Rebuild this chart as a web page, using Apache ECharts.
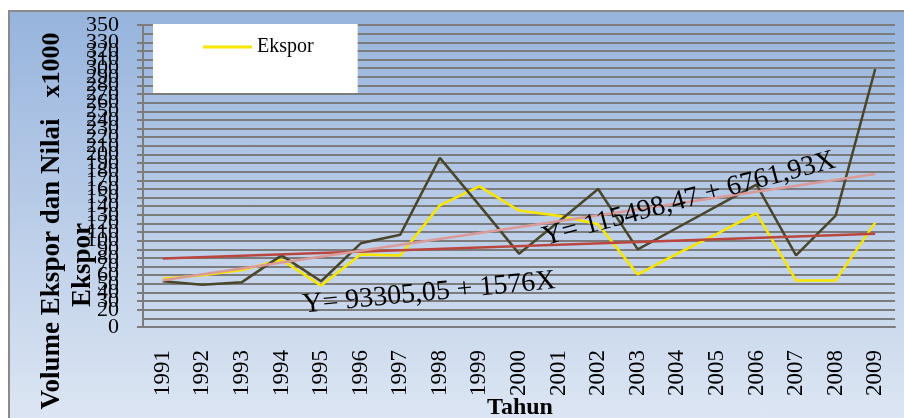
<!DOCTYPE html>
<html>
<head>
<meta charset="utf-8">
<script src="https://cdn.jsdelivr.net/npm/echarts@6/dist/echarts.min.js"></script>
<style>
  html, body { margin: 0; padding: 0; background: #fff; }
  .wrap { position: relative; width: 904px; height: 418px; overflow: hidden; }
  .bg {
    position: absolute; left: 8px; top: 10px; right: -4px; bottom: -4px;
    border-left: 2px solid #8a8a8a; border-top: 2px solid #8a8a8a;
    background: linear-gradient(to bottom, #97b4dd, #dde6f3);
  }
  #chart { position: absolute; left: 0; top: 0; width: 904px; height: 418px; }
</style>
</head>
<body>
<div class="wrap">
  <div class="bg"></div>
  <div id="chart"></div>
</div>
<script>
// data (x1000)
const years = ['1991', '1992', '1993', '1994', '1995', '1996', '1997', '1998', '1999', '2000',
  '2001', '2002', '2003', '2004', '2005', '2006', '2007', '2008', '2009']
const ekspor = [56, 60, 66, 78, 48, 84, 83, 141, 163, 135, 129, 119, 61, 85, 108, 132, 54, 54, 121]
const nilai = [53, 49, 52, 83, 53, 97, 107, 196, 141, 85, 122, 160, 90, 115, 140, 165, 83, 129, 299]
// trend lines: value at first and last year
const trendEkspor = [79.5, 108]
const trendNilai = [54.3, 177.2]

const serif = '"Liberation Serif", "Times New Roman", serif'
const gridGray = '#7c7c7c'

const chart = echarts.init(document.getElementById('chart'))

const trendData = (vals) => [[years[0], vals[0]], [years[years.length - 1], vals[1]]]

const option = {
  animation: false,
  graphic: [
    {
      type: 'text',
      x: 52, y: 65, rotation: Math.PI / 2,
      style: { text: 'x1000', font: 'bold 26px ' + serif, fill: '#000', align: 'center', verticalAlign: 'middle' }
    },
    {
      type: 'text',
      x: 52, y: 264, rotation: Math.PI / 2,
      style: { text: 'Volume Ekspor dan Nilai', font: 'bold 27px ' + serif, fill: '#000', align: 'center', verticalAlign: 'middle' }
    },
    {
      type: 'text',
      x: 83, y: 265, rotation: Math.PI / 2,
      style: { text: 'Ekspor', font: 'bold 27px ' + serif, fill: '#000', align: 'center', verticalAlign: 'middle' }
    },
    {
      type: 'text',
      x: 520, y: 408,
      style: { text: 'Tahun', font: 'bold 24px ' + serif, fill: '#000', align: 'center', verticalAlign: 'middle' }
    },
    {
      type: 'text',
      x: 429, y: 293, rotation: 5.5 * Math.PI / 180, z: 10,
      style: { text: 'Y= 93305,05 + 1576X', font: '28px ' + serif, fill: '#000', align: 'center', verticalAlign: 'middle' }
    },
    {
      type: 'text',
      x: 689, y: 199, rotation: 15 * Math.PI / 180, z: 10,
      style: { text: 'Y= 115498,47 + 6761,93X', font: '28px ' + serif, fill: '#000', align: 'center', verticalAlign: 'middle' }
    }
  ],
  legend: {
    data: [{ name: 'Ekspor', icon: 'rect' }],
    left: 153,
    top: 24,
    padding: [13, 44, 36, 50],
    backgroundColor: '#fff',
    itemWidth: 49,
    itemHeight: 3,
    textStyle: { fontFamily: serif, fontSize: 20, color: '#000' }
  },
  grid: { left: 143, right: 9, top: 25, bottom: 91 },
  xAxis: {
    type: 'category',
    data: years,
    boundaryGap: true,
    axisLine: { lineStyle: { color: gridGray, width: 2 } },
    axisTick: { show: false },
    axisLabel: { rotate: 90, margin: 23, fontFamily: serif, fontSize: 23, color: '#000', interval: 0 }
  },
  yAxis: {
    type: 'value',
    min: 0,
    max: 350,
    interval: 10,
    axisLine: { show: true, lineStyle: { color: gridGray, width: 2 } },
    axisTick: { show: true, length: 6, lineStyle: { color: gridGray, width: 2 } },
    axisLabel: {
      margin: 24, fontFamily: serif, fontSize: 22, color: '#000',
      showMinLabel: true, showMaxLabel: true, hideOverlap: false
    },
    splitLine: { show: true, lineStyle: { color: gridGray, width: 2, opacity: 1 } }
  },
  series: [
    {
      name: 'Ekspor',
      type: 'line',
      data: ekspor,
      symbol: 'none',
      itemStyle: { color: '#f8e600' },
      lineStyle: { color: '#f8e600', width: 2.5 }
    },
    {
      name: 'Nilai',
      type: 'line',
      data: nilai,
      symbol: 'none',
      itemStyle: { color: '#4a462c' },
      lineStyle: { color: '#4a462c', width: 2.5 }
    },
    {
      name: 'Trend Ekspor',
      type: 'line',
      data: trendData(trendEkspor),
      symbol: 'none',
      lineStyle: { color: '#b9463f', width: 2.5 }
    },
    {
      name: 'Trend Nilai',
      type: 'line',
      data: trendData(trendNilai),
      symbol: 'none',
      lineStyle: { color: '#da9b98', width: 2.5 }
    }
  ]
}

chart.setOption(option)

window.addEventListener('resize', () => chart.resize())
</script>
</body>
</html>
